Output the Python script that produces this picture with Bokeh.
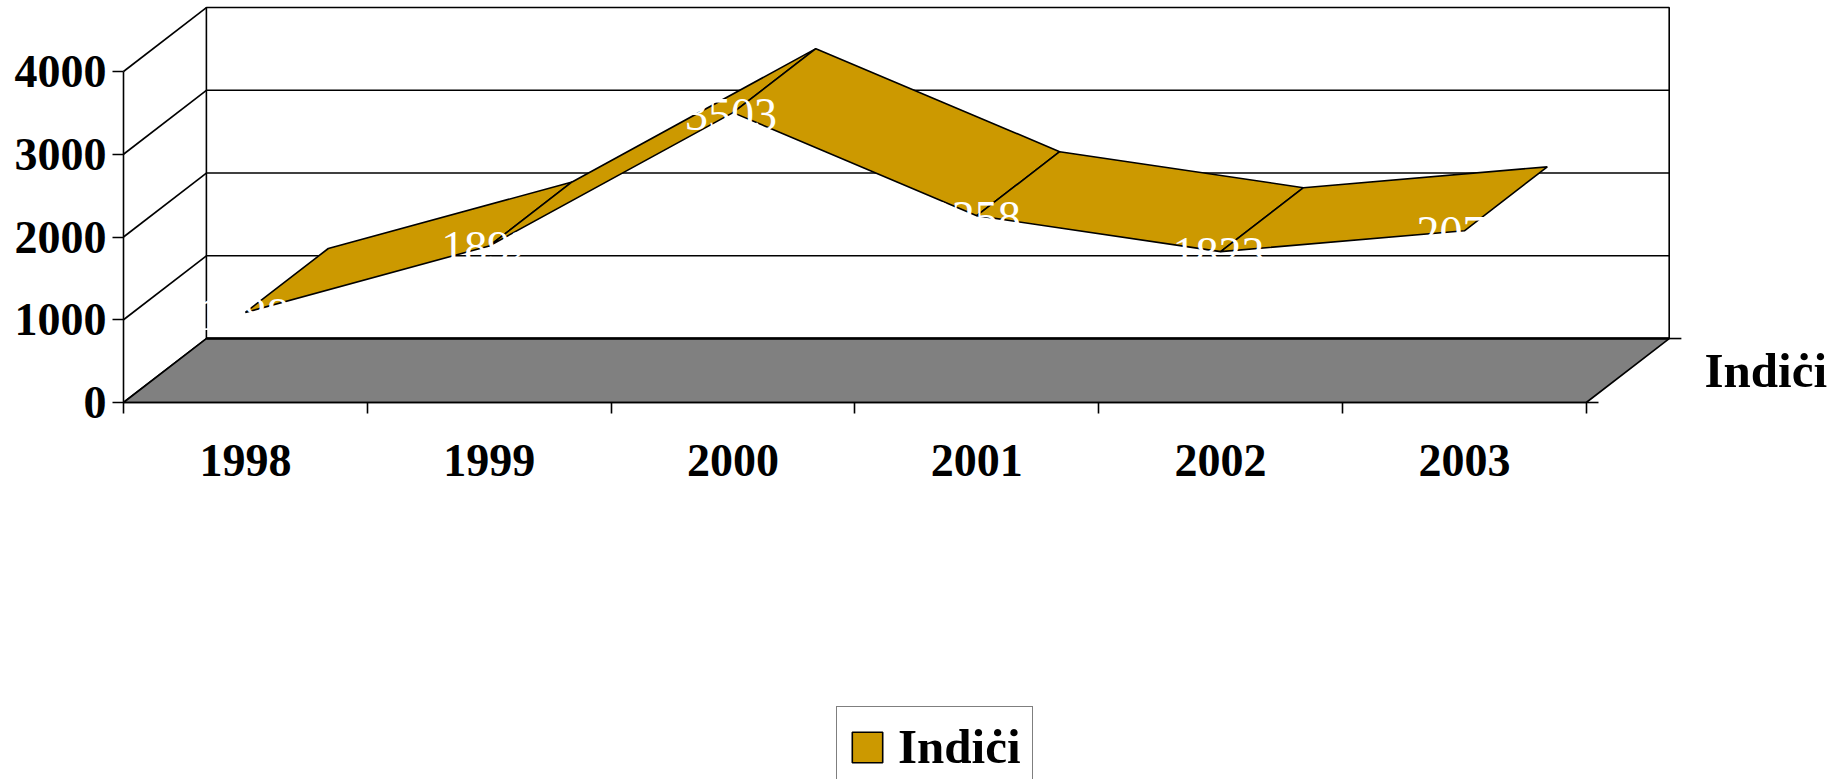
from bokeh.plotting import figure
from bokeh.embed import file_html
from bokeh.resources import INLINE
from bokeh.models import (LinearAxis, FixedTicker, Range1d, Legend, LegendItem,
                          ColumnDataSource)
from bokeh.core.properties import value

years = ["1998", "1999", "2000", "2001", "2002", "2003"]
indici = [1088, 1892, 3503, 2258, 1823, 2075]
data_labels = ["1088", "1892", "3503", "2258", "1823", "2075"]
y_ticks = [0, 1000, 2000, 3000, 4000]
series_name = "Indi\u010bi"

W, H = 1847, 779
X0_PX, Y0_PX = 123.0, 402.0   # where the axes meet
PX_PER_CAT = 243.8
PX_PER_VAL = 331 / 4000
DEPTH_X = 0.34      # category units
DEPTH_Y = 773       # value units
FONT = "Liberation Serif"
FS = "46px"
FS_NAME = "49px"
GOLD = "#CC9900"
GREY = "#808080"
LW = 1.6

n = len(years)
ymax = y_ticks[-1]

p = figure(width=W, height=H, output_backend="svg", toolbar_location=None,
           x_range=Range1d(-X0_PX / PX_PER_CAT, (W - X0_PX) / PX_PER_CAT),
           y_range=Range1d(-(H - Y0_PX) / PX_PER_VAL, Y0_PX / PX_PER_VAL),
           x_axis_type=None, y_axis_type=None,
           min_border_left=0, min_border_right=0, min_border_top=0, min_border_bottom=0)
p.outline_line_color = None
p.background_fill_color = "white"
p.border_fill_color = "white"

# back wall
p.quad(left=[DEPTH_X], right=[n + DEPTH_X], bottom=[DEPTH_Y], top=[ymax + DEPTH_Y],
       fill_color="white", line_color="black", line_width=LW)
# gridlines on back wall and on side wall
for t in y_ticks[1:-1]:
    p.segment([DEPTH_X], [t + DEPTH_Y], [n + DEPTH_X], [t + DEPTH_Y], line_color="black", line_width=LW)
for t in y_ticks:
    p.segment([0], [t], [DEPTH_X], [t + DEPTH_Y], line_color="black", line_width=LW)

# floor
p.patch([0, n, n + DEPTH_X, DEPTH_X], [0, 0, DEPTH_Y, DEPTH_Y],
        fill_color=GREY, line_color="black", line_width=LW)
p.segment([DEPTH_X], [DEPTH_Y], [n + DEPTH_X], [DEPTH_Y], line_color="black", line_width=LW * 1.6)
# floor right tick marks
p.segment([n + DEPTH_X], [DEPTH_Y], [n + DEPTH_X + 0.05], [DEPTH_Y], line_color="black", line_width=LW)
p.segment([n], [0], [n + 0.05], [0], line_color="black", line_width=LW)

# ribbon
xs, ys = [], []
for i in range(n - 1):
    a, b = i + 0.5, i + 1.5
    xs.append([a, b, b + DEPTH_X, a + DEPTH_X])
    ys.append([indici[i], indici[i + 1], indici[i + 1] + DEPTH_Y, indici[i] + DEPTH_Y])
ribbon = p.patches(xs, ys, fill_color=GOLD, line_color="black", line_width=LW)

# data labels
src = ColumnDataSource(dict(x=[i + 0.5 for i in range(n)], y=indici, t=data_labels))
p.text("x", "y", text="t", source=src, text_color="white", text_font=value(FONT),
       text_font_size=FS, text_align="center", text_baseline="middle",
       x_offset=-2, y_offset=2)

# series axis title
p.text([n + DEPTH_X + 0.145], [DEPTH_Y - 386], text=[series_name], text_color="black",
       text_font=value(FONT), text_font_size=FS_NAME, text_font_style="bold",
       text_align="left", text_baseline="middle")

# axes
yaxis = LinearAxis(ticker=FixedTicker(ticks=y_ticks), bounds=(0, ymax), fixed_location=0,
                   major_tick_in=0, major_tick_out=11, minor_tick_line_color=None,
                   major_label_standoff=6,
                   major_label_text_font=FONT, major_label_text_font_size=FS,
                   major_label_text_font_style="bold", major_label_text_color="black",
                   axis_line_color="black", axis_line_width=LW,
                   major_tick_line_color="black", major_tick_line_width=LW)
p.add_layout(yaxis, "left")

xaxis = LinearAxis(ticker=FixedTicker(ticks=[i + 0.5 for i in range(n)],
                                      minor_ticks=list(range(n + 1))),
                   bounds=(0, n), fixed_location=0, major_tick_in=0, major_tick_out=0,
                   minor_tick_in=0, minor_tick_out=11,
                   major_label_standoff=31,
                   major_label_overrides={i + 0.5: y for i, y in enumerate(years)},
                   major_label_text_font=FONT, major_label_text_font_size=FS,
                   major_label_text_font_style="bold", major_label_text_color="black",
                   axis_line_color="black", axis_line_width=LW,
                   minor_tick_line_color="black", minor_tick_line_width=LW,
                   major_tick_line_color=None)
p.add_layout(xaxis, "below")

legend = Legend(items=[LegendItem(label=series_name, renderers=[ribbon])],
                location=(836, -8), orientation="vertical",
                border_line_color="black", border_line_width=LW,
                background_fill_color="white", background_fill_alpha=1,
                label_text_font=FONT, label_text_font_size=FS_NAME,
                label_text_font_style="bold", label_text_color="black",
                glyph_width=38, glyph_height=38, padding=11, spacing=0, margin=0,
                label_standoff=12)
p.add_layout(legend, "center")

open("out.html", "w").write(file_html(p, INLINE))
